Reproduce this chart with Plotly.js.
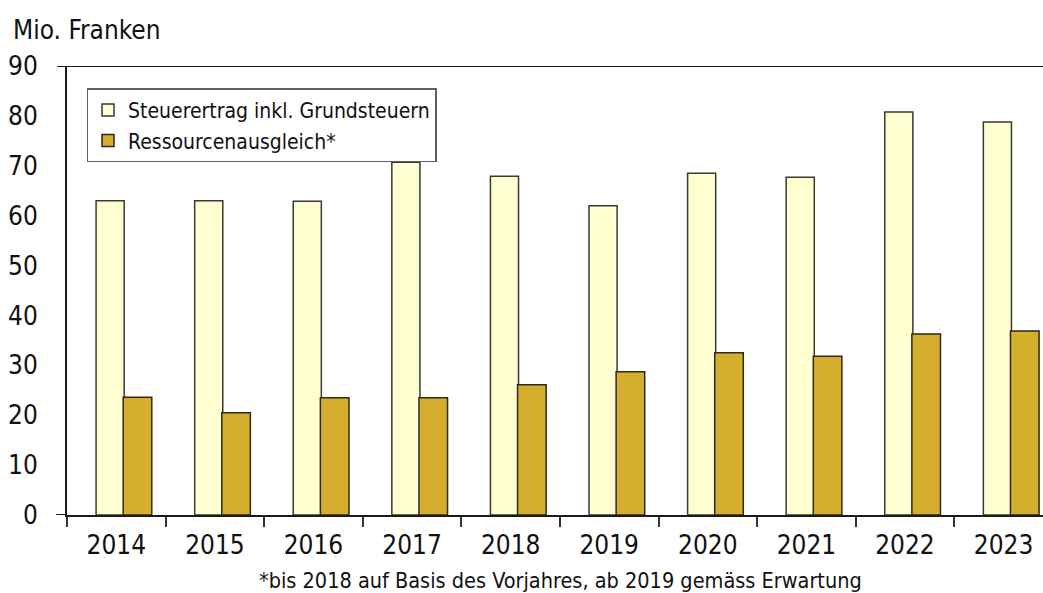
<!DOCTYPE html>
<html>
<head>
<meta charset="utf-8">
<script src="https://cdn.plot.ly/plotly-3.0.1.min.js"></script>
<style>html,body{margin:0;padding:0;background:#fff;}#chart{width:1043px;height:593px;}</style>
</head>
<body>
<div id="chart"></div>
<script>
const years = ["2014","2015","2016","2017","2018","2019","2020","2021","2022","2023"];
const steuerertrag = [63.0, 63.0, 62.9, 70.7, 67.9, 62.0, 68.5, 67.7, 80.8, 78.8];
const ressourcenausgleich = [23.6, 20.5, 23.5, 23.5, 26.1, 28.7, 32.5, 31.8, 36.3, 36.9];
const yTicks = [0,10,20,30,40,50,60,70,80,90];
const seriesNames = ["Steuerertrag inkl. Grundsteuern", "Ressourcenausgleich*"];
const yTitle = "Mio. Franken";
const footnote = "*bis 2018 auf Basis des Vorjahres, ab 2019 gemäss Erwartung";

const font = "DejaVu Sans Condensed, DejaVu Sans, sans-serif";
const traces = [
  {type:"bar", x:years, y:steuerertrag, name:seriesNames[0], legendgroup:"a",
   offset:-0.205, width:0.285,
   marker:{color:"#FFFFD2", line:{color:"#3a3a30", width:1.5}}},
  {type:"bar", x:years, y:ressourcenausgleich, name:seriesNames[1], legendgroup:"b",
   offset:0.07, width:0.29,
   marker:{color:"#D4AE2C", line:{color:"#2e2a18", width:1.5}}}
];
const layout = {
  width:1043, height:593,
  margin:{l:67, r:0, t:66, b:78},
  paper_bgcolor:"#fff", plot_bgcolor:"#fff",
  font:{family:font, color:"#111"},
  barmode:"overlay",
  showlegend:true,
  legend:{x:0.02, y:0.95, xanchor:"left", yanchor:"top",
          bgcolor:"#fff", bordercolor:"#5a5f6a", borderwidth:1.5,
          font:{size:21, family:font, color:"#111"},
          traceorder:"grouped", tracegroupgap:0, itemwidth:30},
  xaxis:{type:"category", range:[-0.5, 9.4], showline:true, linecolor:"#1a1a1a", linewidth:2,
         mirror:false, ticks:"outside", tickson:"boundaries", ticklen:10, tickwidth:2, tickcolor:"#333",
         tickfont:{size:26, family:font, color:"#111"}, ticklabelstandoff:6, showgrid:false, fixedrange:true},
  yaxis:{range:[0,90], tickvals:yTicks, showline:true, linecolor:"#1a1a1a", linewidth:2,
         ticks:"", showgrid:false, zeroline:false,
         tickfont:{size:26, family:font, color:"#111"}, ticklabelstandoff:22, fixedrange:true},
  shapes:[
    {type:"line", xref:"paper", yref:"y", x0:-0.01, x1:1, y0:90, y1:90, line:{color:"#1a1a1a", width:2}},
    {type:"line", xref:"paper", yref:"y", x0:-0.011, x1:0, y0:0, y1:0, line:{color:"#1a1a1a", width:2}}
  ],
  annotations:[
    {text:yTitle, xref:"paper", yref:"paper", x:-0.057, y:1.081, xanchor:"left", yanchor:"middle",
     showarrow:false, font:{size:26, family:font, color:"#111"}},
    {text:footnote, xref:"paper", yref:"paper", x:0.506, y:-0.145, xanchor:"center", yanchor:"middle",
     showarrow:false, font:{size:21.5, family:font, color:"#111"}}
  ]
};
Plotly.newPlot("chart", traces, layout, {displayModeBar:false, staticPlot:true});
</script>
</body>
</html>
